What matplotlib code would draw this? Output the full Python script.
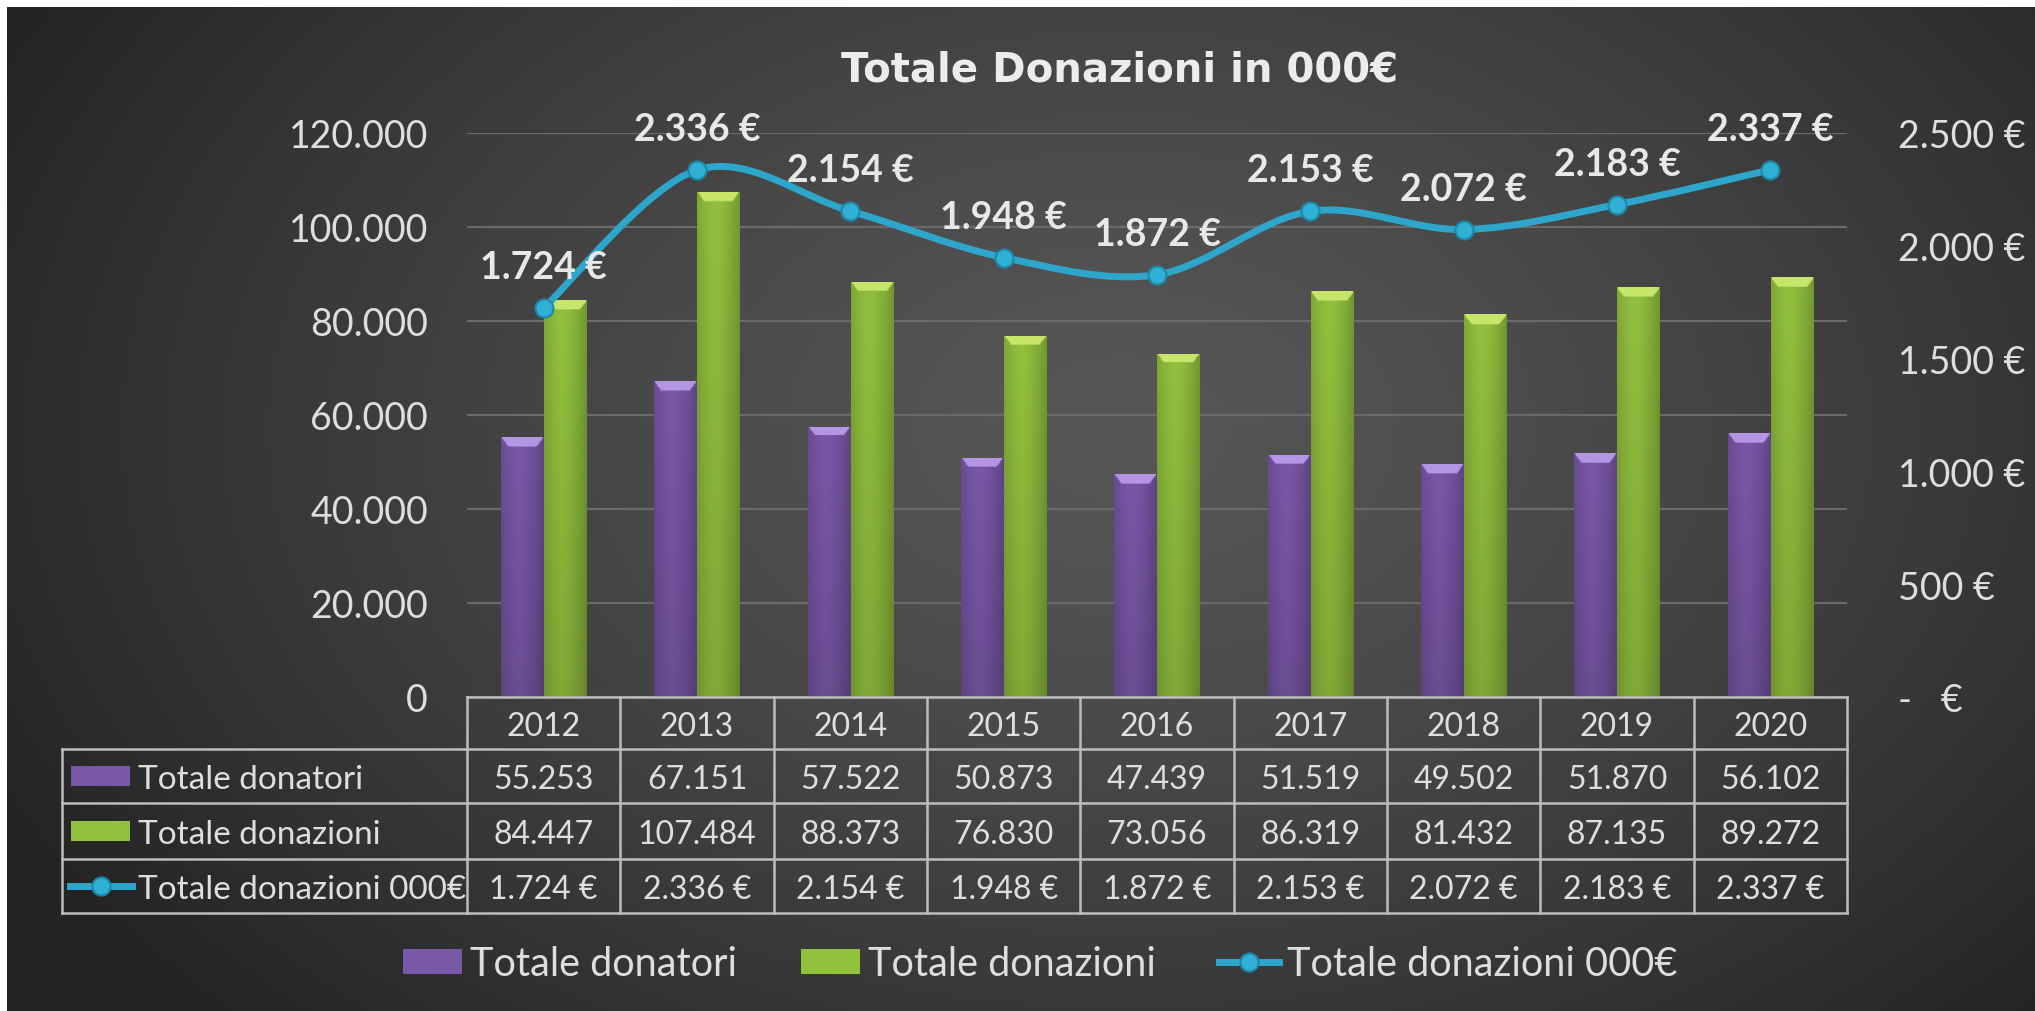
import numpy as np
import matplotlib
matplotlib.use("Agg")
import matplotlib.pyplot as plt
from matplotlib.path import Path
from matplotlib.patches import PathPatch, Rectangle
from matplotlib.lines import Line2D
from matplotlib.ticker import FuncFormatter, FixedLocator
from matplotlib.transforms import blended_transform_factory

# ---------------- data ----------------
years = ["2012", "2013", "2014", "2015", "2016", "2017", "2018", "2019", "2020"]
donatori = [55253, 67151, 57522, 50873, 47439, 51519, 49502, 51870, 56102]
donazioni = [84447, 107484, 88373, 76830, 73056, 86319, 81432, 87135, 89272]
donazioni_k = [1724, 2336, 2154, 1948, 1872, 2153, 2072, 2183, 2337]
series_names = ["Totale donatori", "Totale donazioni", "Totale donazioni 000€"]
title_text = "Totale Donazioni in 000€"
left_ticks = [0, 20000, 40000, 60000, 80000, 100000, 120000]
right_ticks = [0, 500, 1000, 1500, 2000, 2500]

# ---------------- style ----------------
plt.rcParams['font.family'] = ['Lato', 'DejaVu Sans']
W, H, DPI = 2035, 1012, 100
TXT = '#dedede'
PURPLE = '#7a58a8'
GREEN = '#92c13e'
BLUE = '#2ea6cb'
GRID = '#6a6a6a'
TABLE_LINE = '#bdbdbd'


def fx(px):
    return px / W


def fy(py):
    return 1 - py / H


def it_num(v):
    return f"{int(round(v)):,}".replace(",", ".")


def euro(v):
    return f"{it_num(v)} €"


fig = plt.figure(figsize=(W / DPI, H / DPI), dpi=DPI, facecolor='white')

# background radial gradient (dark grey)
bg = fig.add_axes([fx(7), 0, 1 - fx(7), 1 - 8 / H])
bg.set_axis_off()
yy, xx = np.mgrid[0:1:400j, 0:1:800j]
r = np.sqrt(((xx - 0.55) / 0.62) ** 2 + ((yy - 0.42) / 0.85) ** 2)
t = np.clip(r, 0, 1) ** 1.3
c0 = np.array([0x57, 0x57, 0x57]) / 255
c1 = np.array([0x24, 0x24, 0x24]) / 255
img = c0[None, None, :] * (1 - t[..., None]) + c1[None, None, :] * t[..., None]
bg.imshow(img, aspect='auto', extent=(0, 1, 1, 0), zorder=0)
bg.set_xlim(0, 1)
bg.set_ylim(1, 0)

# ---------------- main axes ----------------
ax = fig.add_axes([fx(467), fy(698), fx(1847) - fx(467), (698 - 134) / H])
ax.patch.set_alpha(0)
x = np.arange(len(years))
bw = 0.275
b1 = ax.bar(x - 0.14, donatori, bw, color=PURPLE, zorder=3, label=series_names[0])
b2 = ax.bar(x + 0.14, donazioni, bw, color=GREEN, zorder=3, label=series_names[1])
ax.set_xlim(-0.5, len(years) - 0.5)
ax.set_ylim(0, 120000)


def shade_bars(bars, base, light, ax):
    base = np.array(matplotlib.colors.to_rgb(base))
    light = np.array(matplotlib.colors.to_rgb(light))
    px_per_unit = 564 / 120000.0
    for p in bars:
        x0, w, h = p.get_x(), p.get_width(), p.get_height()
        nr, nc = 300, 40
        v, u = np.mgrid[0:1:complex(0, nr), 0:1:complex(0, nc)]  # v=0 at top
        prof = 1.0 - 0.22 * np.abs(u - 0.42) ** 1.5 * 2.2
        vert = 1.0 - 0.12 * v
        col = base[None, None, :] * (prof * vert)[..., None]
        band = min(9.0 / (h * px_per_unit), 0.5)
        d = v / band
        inside = (d <= 1) & (u > 0.16 * d) & (u < 1 - 0.16 * d)
        col[inside] = light
        col = np.clip(col, 0, 1)
        im = ax.imshow(col, extent=(x0, x0 + w, 0, h), origin='upper', aspect='auto',
                       zorder=3.5, interpolation='bilinear')
        im.set_clip_path(p)


shade_bars(b1, PURPLE, '#b495e6', ax)
shade_bars(b2, GREEN, '#c6e66a', ax)
ax.set_xlim(-0.5, len(years) - 0.5)
ax.set_ylim(0, 120000)

ax.yaxis.set_major_locator(FixedLocator(left_ticks))
ax.yaxis.set_major_formatter(FuncFormatter(lambda v, p: it_num(v)))
ax.tick_params(axis='y', length=0, pad=28, labelsize=27, labelcolor=TXT)
ax.set_xticks([])
ax.grid(axis='y', color=GRID, lw=1.6, zorder=0)
ax.set_axisbelow(True)
for s in ax.spines.values():
    s.set_visible(False)

# ---------------- secondary axis (line) ----------------
ax2 = ax.twinx()
ax2.set_ylim(0, 2500)
ax2.yaxis.set_major_locator(FixedLocator(right_ticks))
ax2.yaxis.set_major_formatter(FuncFormatter(lambda v, p: "-   €" if v == 0 else euro(v)))
ax2.tick_params(axis='y', length=0, pad=37, labelsize=27, labelcolor=TXT)
for s in ax2.spines.values():
    s.set_visible(False)

# smoothed line (Excel-like cubic Bezier through the data points)
pts = np.column_stack([x, donazioni_k]).astype(float)
verts = [tuple(pts[0])]
codes = [Path.MOVETO]
n = len(pts)
for i in range(n - 1):
    p0 = pts[i - 1] if i > 0 else pts[i]
    p1 = pts[i]
    p2 = pts[i + 1]
    p3 = pts[i + 2] if i + 2 < n else pts[i + 1]
    c_a = p1 + (p2 - p0) / 6.0
    c_b = p2 - (p3 - p1) / 6.0
    verts += [tuple(c_a), tuple(c_b), tuple(p2)]
    codes += [Path.CURVE4, Path.CURVE4, Path.CURVE4]
curve = PathPatch(Path(verts, codes), facecolor='none', edgecolor=BLUE, lw=5,
                  capstyle='round', joinstyle='round', zorder=5)
ax2.add_patch(curve)
ax2.plot(x, donazioni_k, 'o', ms=13, color='#31b0d6', mec='#1d87a8', mew=1.5, zorder=6)
for xi, v in zip(x, donazioni_k):
    ax2.annotate(euro(v), (xi, v), xytext=(0, 21.5), textcoords='offset points',
                 ha='center', va='baseline', fontsize=27, fontweight='bold',
                 color='#e8e8e8', zorder=7, annotation_clip=False)

# ---------------- title ----------------
fig.text(fx(1120), fy(82), title_text, ha='center', va='baseline', fontsize=29,
         fontweight='bold', color='#ececec', family=['DejaVu Sans'])

# ---------------- data table ----------------
bt = blended_transform_factory(ax.transData, fig.transFigure)
row_y = [698, 750, 804, 860, 914]
tl = dict(color=TABLE_LINE, lw=1.8, zorder=4)
xl, xr = -0.5, len(years) - 0.5
# horizontal lines
fig.add_artist(Line2D([xl, xr], [fy(row_y[0])] * 2, transform=bt, **tl))
for ry in row_y[1:]:
    fig.add_artist(Line2D([fx(62), fx(467)], [fy(ry)] * 2, transform=fig.transFigure, **tl))
    fig.add_artist(Line2D([xl, xr], [fy(ry)] * 2, transform=bt, **tl))
# vertical lines
fig.add_artist(Line2D([fx(62), fx(62)], [fy(row_y[1]), fy(row_y[-1])],
                      transform=fig.transFigure, **tl))
for b in np.arange(len(years) + 1) - 0.5:
    fig.add_artist(Line2D([b, b], [fy(row_y[0]), fy(row_y[-1])], transform=bt, **tl))

row_centers = [(row_y[i] + row_y[i + 1]) / 2 for i in range(4)]
for xi, yr in zip(x, years):
    fig.text(xi, fy(row_centers[0]), yr, transform=bt, ha='center',
             va='center_baseline', fontsize=23, color=TXT)
table_rows = [[it_num(v) for v in donatori],
              [it_num(v) for v in donazioni],
              [euro(v) for v in donazioni_k]]
for ri, vals in enumerate(table_rows):
    yc = fy(row_centers[ri + 1])
    for xi, s in zip(x, vals):
        fig.text(xi, yc, s, transform=bt, ha='center', va='center_baseline',
                 fontsize=23, color=TXT)
    fig.text(fx(138), yc, series_names[ri], ha='left', va='center_baseline',
             fontsize=24, color=TXT)

# table legend keys
for ri, col in enumerate([PURPLE, GREEN]):
    yc = row_centers[ri + 1]
    fig.add_artist(Rectangle((fx(71), fy(yc + 10)), fx(130) - fx(71), 20 / H,
                             transform=fig.transFigure, facecolor=col, edgecolor='none',
                             zorder=5))
yc = fy(row_centers[3])
fig.add_artist(Line2D([fx(70), fx(132)], [yc, yc], transform=fig.transFigure,
                      color=BLUE, lw=5, zorder=5))
fig.add_artist(Line2D([fx(101)], [yc], transform=fig.transFigure, marker='o', ms=13,
                      color='#31b0d6', mec='#1d87a8', mew=1.5, zorder=6))

# ---------------- bottom legend ----------------
line_handle = Line2D([], [], color=BLUE, lw=5, marker='o', ms=13,
                     mfc='#31b0d6', mec='#1d87a8', mew=1.5)
leg = fig.legend(handles=[b1, b2, line_handle], labels=series_names, loc='center',
                 bbox_to_anchor=(fx(1040), fy(965)), ncol=3, frameon=False,
                 fontsize=28.5, handlelength=1.5, handleheight=0.6, handletextpad=0.2,
                 columnspacing=1.6, labelcolor=TXT)

fig.savefig('out.png', dpi=DPI, facecolor=fig.get_facecolor())
